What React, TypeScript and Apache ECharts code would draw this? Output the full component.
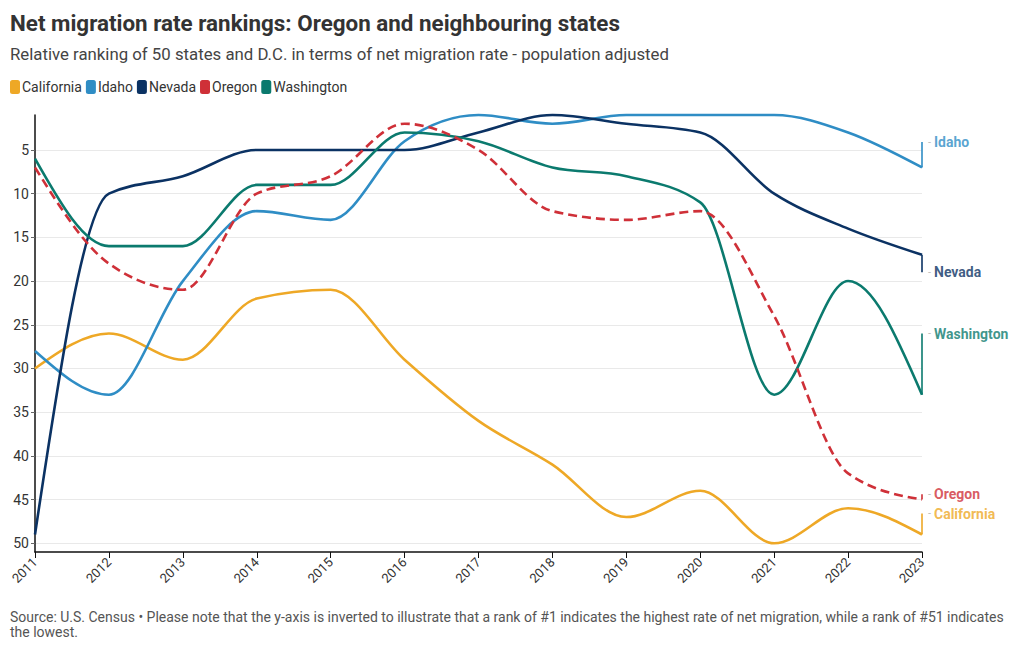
import React, { useEffect, useRef } from "react";
import * as echarts from "echarts";

const years = [2011, 2012, 2013, 2014, 2015, 2016, 2017, 2018, 2019, 2020, 2021, 2022, 2023];
const states = ["California", "Idaho", "Nevada", "Oregon", "Washington"];
const colors = ["#eea826", "#2f8dc5", "#0b3263", "#cf3038", "#0b7a6e"];
const california = [30, 26, 29, 22, 21, 29, 36, 41, 47, 44, 50, 46, 49];
const idaho = [28, 33, 20, 12, 13, 4, 1, 2, 1, 1, 1, 3, 7];
const nevada = [49, 10, 8, 5, 5, 5, 3, 1, 2, 3, 10, 14, 17];
const oregon = [7, 18, 21, 10, 8, 2, 5, 12, 13, 12, 24, 42, 45];
const washington = [6, 16, 16, 9, 9, 3, 4, 7, 8, 11, 33, 20, 33];
const seriesValues = [california, idaho, nevada, oregon, washington];
// where each end label sits (rank scale) to avoid overlapping
const labelRanks = [46.6, 4.1, 19.0, 44.4, 26.0];
const yTicks = [5, 10, 15, 20, 25, 30, 35, 40, 45, 50];

const FONT = "Roboto, 'Noto Sans', sans-serif";

// monotone-x cubic interpolation (as d3.curveMonotoneX) in pixel space
function sign(v: number) {
  return v < 0 ? -1 : 1;
}
function monotonePath(pts: number[][]): string {
  const n = pts.length;
  if (n < 2) return "";
  const t: number[] = new Array(n).fill(0);
  for (let i = 1; i < n - 1; i++) {
    const [x0, y0] = pts[i - 1];
    const [x1, y1] = pts[i];
    const [x2, y2] = pts[i + 1];
    const h0 = x1 - x0;
    const h1 = x2 - x1;
    const s0 = (y1 - y0) / h0;
    const s1 = (y2 - y1) / h1;
    const p = (s0 * h1 + s1 * h0) / (h0 + h1);
    t[i] = (sign(s0) + sign(s1)) * Math.min(Math.abs(s0), Math.abs(s1), 0.5 * Math.abs(p)) || 0;
  }
  if (n > 2) {
    const h0 = pts[1][0] - pts[0][0];
    t[0] = h0 ? (3 * (pts[1][1] - pts[0][1]) / h0 - t[1]) / 2 : t[1];
    const hn = pts[n - 1][0] - pts[n - 2][0];
    t[n - 1] = hn ? (3 * (pts[n - 1][1] - pts[n - 2][1]) / hn - t[n - 2]) / 2 : t[n - 2];
  } else {
    const s = (pts[1][1] - pts[0][1]) / (pts[1][0] - pts[0][0]);
    t[0] = s;
    t[1] = s;
  }
  let d = "M" + pts[0][0] + "," + pts[0][1];
  for (let i = 1; i < n; i++) {
    const [x0, y0] = pts[i - 1];
    const [x1, y1] = pts[i];
    const dx = (x1 - x0) / 3;
    d +=
      "C" +
      (x0 + dx) + "," + (y0 + dx * t[i - 1]) + "," +
      (x1 - dx) + "," + (y1 - dx * t[i]) + "," +
      x1 + "," + y1;
  }
  return d;
}

export default function App() {
  const ref = useRef<HTMLDivElement>(null);
  useEffect(() => {
    if (!ref.current) return;
    const chart = echarts.init(ref.current, undefined, { renderer: "svg" });
    const last = years.length - 1;
    const lineSeries = states.map((name, i) => ({
      name,
      type: "custom",
      coordinateSystem: "cartesian2d",
      data: years.map((y, j) => [y, seriesValues[i][j]]),
      encode: { x: 0, y: 1 },
      clip: false,
      z: name === "Oregon" ? 3 : 2,
      itemStyle: { color: colors[i] },
      renderItem: (params: any, api: any) => {
        if (params.dataIndex !== 0) return null;
        const pts = years.map((y, j) => api.coord([y, seriesValues[i][j]]));
        return {
          type: "path",
          shape: { pathData: monotonePath(pts) },
          style: {
            fill: "none",
            stroke: colors[i],
            lineWidth: 2.6,
            lineDash: name === "Oregon" ? [9, 5] : null,
            lineCap: "butt",
            lineJoin: "round",
          },
        };
      },
    }));
    const labelSeries = states.map((name, i) => ({
      name: name + "-label",
      type: "scatter",
      data: [[years[last], labelRanks[i]]],
      symbolSize: 0,
      silent: true,
      clip: false,
      label: {
        show: true,
        position: "right",
        distance: 6,
        formatter: "{d|-} {n|" + name + "}",
        rich: {
          d: { color: "#aaaaaa", fontSize: 11, fontFamily: FONT },
          n: { color: colors[i], fontSize: 14, fontWeight: "bold", fontFamily: FONT },
        },
      },
      markLine: {
        silent: true,
        symbol: ["none", "none"],
        label: { show: false },
        lineStyle: { color: colors[i], width: 1.6, type: "solid" },
        data: [
          [
            { coord: [years[last], seriesValues[i][last]] },
            { coord: [years[last], labelRanks[i]] },
          ],
        ],
      },
    }));
    chart.setOption({
      animation: false,
      textStyle: { fontFamily: FONT },
      color: colors,
      title: [
        {
          text: "Net migration rate rankings: Oregon and neighbouring states",
          left: 10,
          top: 12,
          padding: 0,
          textStyle: { fontSize: 22.4, fontWeight: "bold", color: "#333333", fontFamily: FONT },
        },
        {
          text: "Relative ranking of 50 states and D.C. in terms of net migration rate - population adjusted",
          left: 10,
          top: 45,
          padding: 0,
          textStyle: { fontSize: 16.8, fontWeight: "normal", color: "#444444", fontFamily: FONT },
        },
        {
          text:
            "Source: U.S. Census • Please note that the y-axis is inverted to illustrate that a rank of #1 indicates the highest rate of net migration, while a rank of #51 indicates\nthe lowest.",
          left: 10,
          top: 609,
          padding: 0,
          textStyle: { fontSize: 14, fontWeight: "normal", color: "#555555", fontFamily: FONT, lineHeight: 15 },
        },
      ],
      legend: {
        data: states,
        left: 10,
        top: 80,
        padding: 0,
        icon: "roundRect",
        itemWidth: 10,
        itemHeight: 14,
        itemGap: 4,
        textStyle: { fontSize: 14, color: "#333333", fontFamily: FONT, padding: [0, 0, 0, -3] },
      },
      grid: { left: 35, right: 98, top: 115, bottom: 98, containLabel: false },
      xAxis: {
        type: "value",
        min: 2011,
        max: 2023,
        interval: 1,
        axisLine: { show: true, lineStyle: { color: "#111111", width: 1.5 } },
        axisTick: { show: true, length: 6, lineStyle: { color: "#111111" } },
        splitLine: { show: false },
        axisLabel: {
          rotate: 45,
          fontSize: 13,
          color: "#333333",
          margin: 8,
          fontFamily: FONT,
          formatter: (v: number) => String(v),
        },
      },
      yAxis: {
        type: "value",
        inverse: true,
        min: 1,
        max: 51,
        axisLine: { show: true, lineStyle: { color: "#111111", width: 1.5 } },
        axisTick: { show: true, length: 4, lineStyle: { color: "#666666" }, customValues: yTicks },
        splitLine: { show: true, lineStyle: { color: "#e9e9e9", width: 1 } },
        axisLabel: {
          fontSize: 14,
          color: "#333333",
          margin: 6,
          fontFamily: FONT,
          customValues: yTicks,
        },
      },
      series: [...lineSeries, ...labelSeries],
    });
    return () => chart.dispose();
  }, []);
  return <div ref={ref} style={{ position: "absolute", left: 0, top: 0, width: 1020, height: 650 }} />;
}
